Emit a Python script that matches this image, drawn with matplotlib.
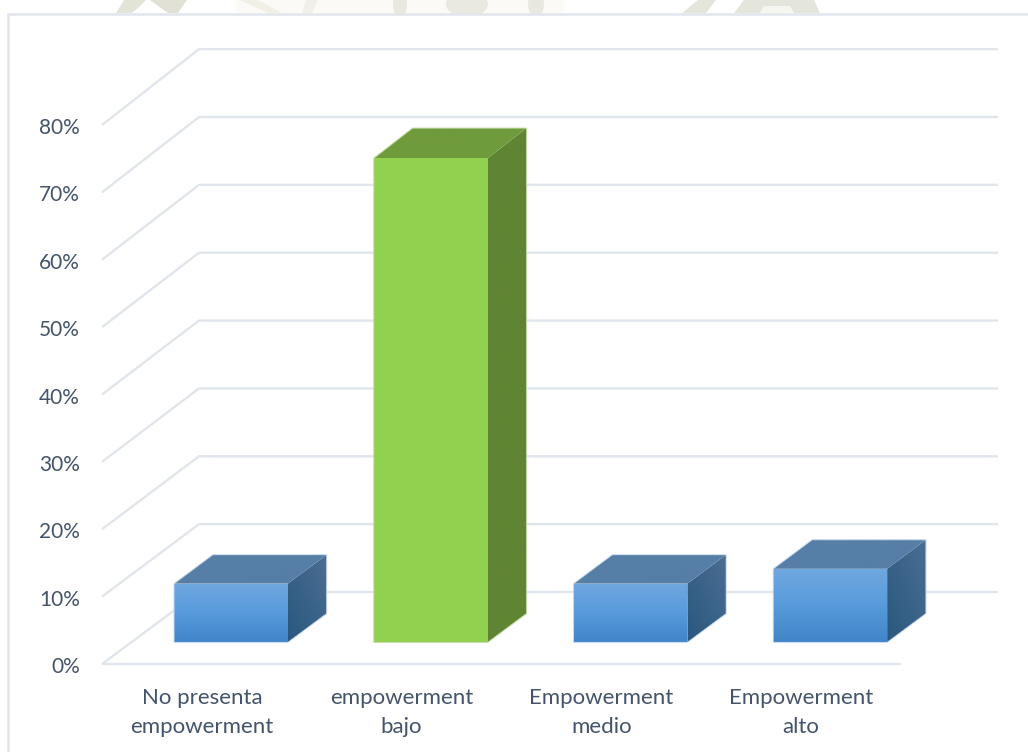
import numpy as np
import matplotlib
matplotlib.use("Agg")
import matplotlib.pyplot as plt
from matplotlib.patches import Polygon, Rectangle, Ellipse
from matplotlib.transforms import ScaledTranslation

# Survey shares per empowerment level (percent)
categories = ["No presenta\nempowerment", "empowerment\nbajo",
              "Empowerment\nmedio", "Empowerment\nalto"]
values = [8.7, 71.7, 8.7, 10.9]
y_ticks = [0, 10, 20, 30, 40, 50, 60, 70, 80]
y_labels = ["0%", "10%", "20%", "30%", "40%", "50%", "60%", "70%", "80%"]

W, H = 1028, 752
TEXT = "#44546A"
GRID = "#E1E5EC"

# Oblique projection of the box: how far one unit of depth shifts a point
DEPTH_X = 97 / 199.75     # category units
DEPTH_Y = 72 / 6.7375     # percentage points
DEPTH_STRETCH = 0.00067   # the back wall is scaled slightly taller
BAR_FRONT, BAR_BACK = 0.30, 0.70
HALF_WIDTH = 0.285


def proj(x, v, d):
    return (x + d * DEPTH_X, v + d * DEPTH_Y * (1 + DEPTH_STRETCH * v))


plt.rcParams["font.family"] = ["Lato", "DejaVu Sans"]
fig = plt.figure(figsize=(W / 100, H / 100), dpi=100, facecolor="white")

# Faint letterhead crest that shows above the chart card
bg = fig.add_axes([0, 0, 1, 1], zorder=0)
bg.set_xlim(0, W)
bg.set_ylim(H, 0)
bg.axis("off")
bg.add_patch(Rectangle((235, 0), 330, 13, fc="#FBFAF7", ec="none"))
crest_shapes = [
    ([(116, 13), (124, 0), (146, 0), (138, 8), (132, 13)], "#E3E4D8"),
    ([(150, 0), (187, 0), (178, 13), (168, 13)], "#E1E2D5"),
    ([(240, 0), (258, 0), (282, 13), (268, 13)], "#F1EFE6"),
    ([(306, 0), (318, 0), (312, 13), (302, 13)], "#F1F0E8"),
    ([(682, 13), (698, 0), (716, 0), (706, 13)], "#E5E6DB"),
    ([(734, 13), (744, 0), (814, 0), (820, 13)], "#E5E6DB"),
    ([(760, 13), (764, 6), (790, 6), (794, 13)], "#F6F6F0"),
]
for pts, colour in crest_shapes:
    bg.add_patch(Polygon(pts, closed=True, fc=colour, ec="none"))
for cx, rx, colour in [(400, 7, "#E8E8DE"), (467, 21, "#E9E9E0"),
                       (536, 8, "#E8E8DE")]:
    bg.add_patch(Ellipse((cx, 4), 2 * rx, 26, fc=colour, ec="none"))
# Chart card with its thin border, running off the right and bottom edges
bg.add_patch(Rectangle((8, 14), W, H, fc="white", ec=GRID, lw=1.8))

# Main axes: the frame is the front plane, from 0% to 80%
ax = fig.add_axes([102 / W, (H - 664) / H, (901 - 102) / W, (664 - 125) / H],
                  zorder=1)
ax.set_xlim(-0.5, 3.5)
ax.set_ylim(0, 80)
ax.patch.set_alpha(0)
for s in ax.spines.values():
    s.set_visible(False)
ax.set_xticks(range(len(categories)), categories)
ax.set_yticks(y_ticks, y_labels)
ax.tick_params(length=0, labelcolor=TEXT)
ax.tick_params(axis="x", labelsize=16, pad=17.5)
ax.tick_params(axis="y", labelsize=15, pad=16)
for lab in ax.get_xticklabels():
    lab.set_linespacing(1.53)
shift_down = ScaledTranslation(0, -1 / 72 * 0.72, fig.dpi_scale_trans)
for lab in ax.get_yticklabels():
    lab.set_transform(lab.get_transform() + shift_down)

# Side wall and back wall gridlines
x0, x1 = -0.5, 3.5
for t in y_ticks[1:]:
    pts = [proj(x0, t, 0), proj(x0, t, 1), proj(x1, t, 1)]
    ax.plot(*zip(*pts), color=GRID, lw=1.7, clip_on=False, zorder=1,
            solid_joinstyle="miter", solid_capstyle="butt")
# Floor outline
floor = [proj(x1, 0, 0), proj(x0, 0, 0), proj(x0, 0, 1), proj(x1, 0, 1)]
ax.plot(*zip(*floor), color=GRID, lw=1.7, clip_on=False, zorder=1,
        solid_joinstyle="miter", solid_capstyle="butt")


def hexrgb(c):
    return np.array(matplotlib.colors.to_rgb(c))


def gradient(colors, n=64):
    stops = np.linspace(0, 1, len(colors))
    rgb = np.array([hexrgb(c) for c in colors])
    t = np.linspace(0, 1, n)
    return np.stack([np.interp(t, stops, rgb[:, i]) for i in range(3)], axis=-1)


def paint(poly, image):
    """Fill a polygon with an image gradient stretched over its bounding box."""
    xs, ys = zip(*poly)
    im = ax.imshow(image, extent=(min(xs), max(xs), min(ys), max(ys)),
                   origin="upper", aspect="auto", zorder=3,
                   interpolation="bilinear")
    # The boxes reach past the front plane, so only the polygon may clip them
    im.set_clip_box(fig.bbox)
    im.set_clip_path(Polygon(poly, closed=True, transform=ax.transData))


def draw_box(i, v, front, side_a, side_b, top, edge):
    l, r = i - HALF_WIDTH, i + HALF_WIDTH
    fa = [proj(l, 0, BAR_FRONT), proj(r, 0, BAR_FRONT),
          proj(r, v, BAR_FRONT), proj(l, v, BAR_FRONT)]
    sd = [proj(r, 0, BAR_FRONT), proj(r, 0, BAR_BACK),
          proj(r, v, BAR_BACK), proj(r, v, BAR_FRONT)]
    tp = [proj(l, v, BAR_FRONT), proj(r, v, BAR_FRONT),
          proj(r, v, BAR_BACK), proj(l, v, BAR_BACK)]

    paint(fa, gradient(front)[:, None, :])
    # Side face shades along the top-right to bottom-left diagonal
    n = 48
    u, w = np.meshgrid(np.linspace(0, 1, n), np.linspace(0, 1, n))
    t = (w + (1 - u)) / 2
    a, b = hexrgb(side_a), hexrgb(side_b)
    paint(sd, a + (b - a) * t[..., None])
    paint(tp, np.array([[hexrgb(top)]]))

    # Pale outline around the silhouette only
    outline = [fa[0], fa[1], sd[1], sd[2], tp[3], fa[3]]
    ax.add_patch(Polygon(outline, closed=True, fc="none", ec=edge, lw=0.7,
                         zorder=4, clip_on=False, joinstyle="miter"))


BLUE = dict(front=["#70A7DF", "#589BDC", "#4184C8"], side_a="#4C6D92",
            side_b="#29587F", top="#567EA6", edge="#C4D8EC")
GREEN = dict(front=["#92D150", "#92D150"], side_a="#5F8433",
             side_b="#5F8433", top="#6F9B3C", edge="#BFD8A0")

for i, v in enumerate(values):
    draw_box(i, v, **(GREEN if i == 1 else BLUE))

ax.set_xlim(-0.5, 3.5)
ax.set_ylim(0, 80)

fig.savefig("out.png", dpi=100, facecolor="white")
